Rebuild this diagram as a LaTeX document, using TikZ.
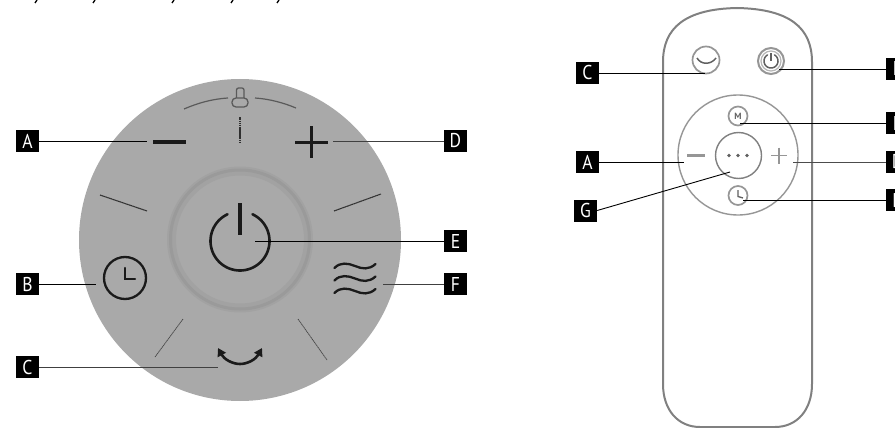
\documentclass[tikz,border=0pt]{standalone}
\usepackage{fontspec}
\setmainfont{PT Sans}
\usetikzlibrary{arrows.meta}
\definecolor{disc}{HTML}{A9A9A9}
\definecolor{ringc}{HTML}{A2A2A2}
\definecolor{ringd}{HTML}{9A9A9A}
\definecolor{ink}{HTML}{1A1A1A}
\definecolor{outl}{HTML}{808080}
\definecolor{soft}{HTML}{969696}
\definecolor{rdark}{HTML}{606060}
\definecolor{lockc}{HTML}{5A5A5A}
\tikzset{
  lab/.style={fill=black,text=white,minimum width=23pt,minimum height=22pt,inner sep=0pt,font=\fontsize{20}{20}\selectfont},
  lead/.style={draw=black,line width=0.9pt},
  tick/.style={draw=ink!85!disc,line width=1.1pt,dash pattern=on 1.5pt off 0.4pt},
  ticklow/.style={draw=ink!70!disc,line width=0.7pt,dash pattern=on 1.5pt off 0.5pt},
  icon/.style={draw=ink,line width=2.3pt,line cap=round},
  rthin/.style={draw=soft,line width=1.4pt},
}
\newcommand{\lt}[1]{\scalebox{0.88}[1]{#1}}
\begin{document}
\begin{tikzpicture}[x=1pt,y=-1pt]
\useasboundingbox (0,0) rectangle (895,428);
% cropped descenders at the top edge
\foreach \xx in {35,93,172,231,277}
  \draw[black,line width=1.3pt] (\xx+2,0) -- (\xx,3);
% --- control panel ---
\fill[disc] (240,240) circle (161);
\draw[ringc,line width=9pt] (240,239.5) circle (68.5);
\draw[ringd,line width=3pt] (240,239.5) circle (69.5);
% lock
\draw[lockc,line width=1.2pt] (184,109) .. controls (198,103) and (212,99) .. (228,98);
\draw[lockc,line width=1.2pt] (255,98) .. controls (270,99) and (284,103) .. (296,108);
\draw[lockc,line width=1.3pt,rounded corners=4pt] (232,98) rectangle (248,107);
\draw[lockc,line width=1.3pt,rounded corners=2pt] (236.5,98) -- (236.5,88) -- (244,88) -- (244,98);
% ticks
\draw[tick] (240,117) -- (240,143);
\draw[tick] (100,195) -- (147,211);
\draw[tick] (334,211) -- (381,194);
\draw[ticklow] (183,319) -- (155,357);
\draw[ticklow] (298,319) -- (327,360);
% minus and plus
\draw[ink,line width=4.6pt] (153,142) -- (186,142);
\draw[ink,line width=2.6pt] (295,142.5) -- (328,142.5);
\draw[ink,line width=2.6pt] (311.5,126) -- (311.5,158);
% power
\draw[ink,line width=2.6pt,line cap=round] plot[domain=115:425,samples=70,smooth] ({240+29.5*cos(\x)},{241-29.5*sin(\x)});
\draw[ink,line width=3.6pt] (240,203) -- (240,235);
% clock
\draw[icon] (125,278) circle (21);
\draw[icon] (125,268) -- (125,279) -- (135,279);
% waves
\foreach \yy in {0,12.5,25}
  \draw[icon] (334.5,268+\yy) .. controls (340,262+\yy) and (348,263+\yy) .. (355,266+\yy) .. controls (362,269+\yy) and (369,270+\yy) .. (375.5,264+\yy);
% swing arrow
\draw[ink,line width=2.6pt,-{Triangle[length=8pt,width=9pt]}] (240,364) .. controls (232,364) and (224,359) .. (218,348);
\draw[ink,line width=2.6pt,-{Triangle[length=8pt,width=9pt]}] (240,364) .. controls (248,364) and (256,359) .. (262,348);
% labels left panel
\node[lab] (A) at (27.5,141) {\lt{A}};
\node[lab] (B) at (27.5,284) {\lt{B}};
\node[lab] (C) at (27.5,367) {\lt{C}};
\node[lab] (D) at (455.5,141) {\lt{D}};
\node[lab] (E) at (455.5,241) {\lt{E}};
\node[lab] (F) at (455.5,284) {\lt{F}};
\coordinate (a1) at (147,141);
\coordinate (b1) at (96,284);
\coordinate (c1) at (218,367);
\coordinate (d1) at (333,141);
\coordinate (e1) at (255,241);
\coordinate (f1) at (383,284);
\draw[lead] (A.east) -- (a1);
\draw[lead] (B.east) -- (b1);
\draw[lead,draw=black!75] (C.east) -- (c1);
\draw[lead,draw=black!75] (d1) -- (D.west);
\draw[lead] (e1) -- (E.west);
\draw[lead,draw=black!75] (f1) -- (F.west);
% --- remote ---
\draw[outl,line width=2pt] (663,384) -- (663,62)
  .. controls (663,28) and (685,9) .. (737,8)
  .. controls (790,9) and (812,28) .. (812,62)
  -- (812,384)
  .. controls (812,410) and (797,427) .. (775,427)
  -- (700,427)
  .. controls (678,427) and (663,410) .. (663,384);
% top buttons
\draw[rthin,line width=1.7pt] (706,60) circle (13.5);
\draw[rdark,line width=1.5pt] (697,58) .. controls (701,65) and (711,65) .. (716,58);
\draw[soft,line width=2pt] (771,61) circle (13);
\draw[soft!70!white,line width=1.2pt] (771,61) circle (10);
\draw[rdark,line width=1.5pt,line cap=round] plot[domain=120:420,samples=40,smooth] ({771+7*cos(\x)},{61-7*sin(\x)});
\draw[rdark,line width=1.5pt] (771,53) -- (771,61);
% wheel
\draw[rthin] (738,155) circle (60);
\draw[outl,line width=1.4pt] (738.5,155.5) circle (23);
\foreach \xx in {729,738,747}
  \fill[rdark] (\xx,155.5) circle (1.8);
\draw[soft,line width=2.2pt] (687,155.5) -- (705,155.5);
\draw[soft,line width=1.7pt] (771,155.5) -- (787,155.5);
\draw[soft,line width=1.7pt] (779,147.5) -- (779,163.5);
\draw[rthin,line width=1.7pt] (738,116) circle (9.5);
\node[inner sep=0pt,text=rdark,font=\fontsize{9}{9}\selectfont\bfseries] (mm) at (738,116) {M};
\draw[rthin,line width=1.7pt] (738,195.5) circle (9.5);
\draw[rdark,line width=1.3pt] (738,190) -- (738,196.5) -- (743,198);
% labels remote
\node[lab] (C2) at (587.5,73) {\lt{C}};
\node[lab] (A2) at (587.5,162) {\lt{A}};
\node[lab] (G2) at (585.5,210.5) {\lt{G}};
\node[lab] (E2) at (897.5,69) {\lt{E}};
\node[lab] (F2) at (897.5,123) {\lt{F}};
\node[lab] (D2) at (897.5,162) {\lt{D}};
\node[lab] (B2) at (897.5,200) {\lt{B}};
\coordinate (c2) at (705,73);
\coordinate (a2) at (684,162);
\coordinate (g2) at (730,172);
\coordinate (e2) at (779,69);
\coordinate (f2) at (740,123);
\coordinate (d2) at (793,162);
\coordinate (b2) at (743,200);
\draw[lead] (C2.east) -- (c2);
\draw[lead] (A2.east) -- (a2);
\draw[lead] (G2.east) -- (g2);
\draw[lead] (e2) -- (E2.west);
\draw[lead] (f2) -- (F2.west);
\draw[lead,draw=black!70] (d2) -- (D2.west);
\draw[lead] (b2) -- (B2.west);
\end{tikzpicture}
\end{document}
